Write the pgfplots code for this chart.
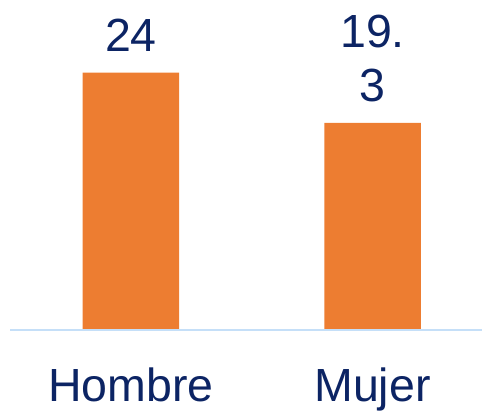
\documentclass[border=0pt]{standalone}
\usepackage{fontspec}
\setmainfont{Liberation Sans}
\usepackage{pgfplots}
\pgfplotsset{compat=1.18}
\definecolor{barorange}{HTML}{ED7D31}
\definecolor{navy}{RGB}{12,36,100}
\definecolor{baseblue}{RGB}{197,223,248}
\begin{document}
\begin{tikzpicture}
\useasboundingbox (-10pt,-80.3pt) rectangle (472pt,329.7pt);
\begin{axis}[
  at={(0,0)}, anchor=south west,
  scale only axis,
  width=472pt, height=329.7pt,
  xmin=-0.501, xmax=1.4534,
  ymin=0, ymax=30.78,
  axis line style={draw=none},
  ytick=\empty,
  major tick length=0pt,
  xtick=data,
  xticklabels={Hombre,Mujer},
  /pgf/number format/assume math mode=true,
  xticklabel style={anchor=base, inner sep=0pt, yshift=-72pt, text=navy,
    font=\fontsize{46.5}{54}\selectfont},
  ybar,
  bar width=96.5pt,
  clip=false,
]
\addplot[fill=barorange, draw=none,
  point meta=explicit symbolic,
  nodes near coords,
  every node near coord/.style={anchor=south, inner sep=0pt, yshift=20.7pt,
    align=center, text=navy, font=\fontsize{46.5}{54.3}\selectfont},
] coordinates {(0,24) [24] (1,19.3) [{19.\\3}]};
\draw[baseblue, line width=1.6pt] (rel axis cs:0,0) -- (rel axis cs:1,0);
\end{axis}
\end{tikzpicture}
\end{document}
